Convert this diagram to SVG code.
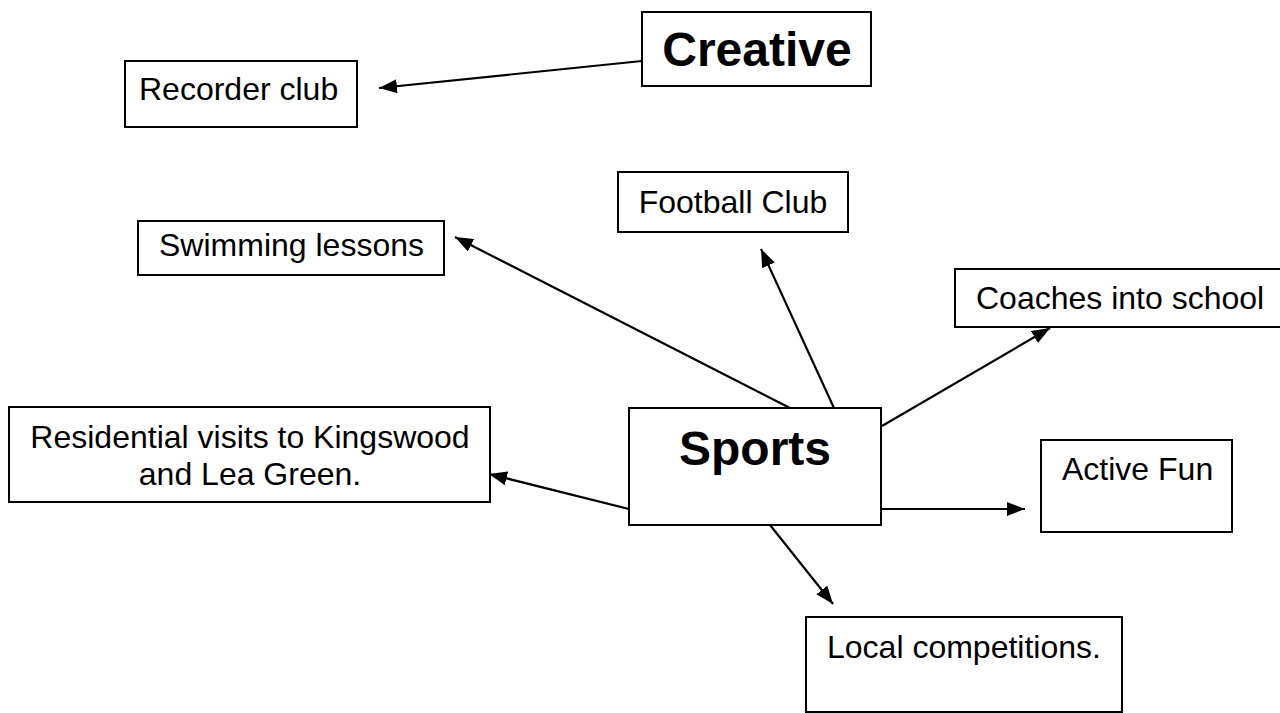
<svg xmlns="http://www.w3.org/2000/svg" width="1280" height="713" viewBox="0 0 1280 713">
<style>
.box{fill:#fff;stroke:#000;stroke-width:2}
.t{font-family:"Liberation Sans",Arial,sans-serif;font-size:32px;fill:#000}
.b{font-family:"Liberation Sans",Arial,sans-serif;font-size:48px;font-weight:bold;fill:#000}
.c{stroke:#000;stroke-width:2.2;fill:none;marker-end:url(#ah)}
</style>
<defs>
<marker id="ah" markerUnits="userSpaceOnUse" markerWidth="18" markerHeight="14" viewBox="0 0 18 14" refX="18" refY="7" orient="auto">
<path d="M0,0 L18,7 L0,14 z" fill="#000"/>
</marker>
</defs>
<rect width="1280" height="713" fill="#fff"/>
<g id="connectors">
<line class="c" x1="642" y1="61" x2="379" y2="88"/>
<line class="c" x1="790" y1="408" x2="455" y2="237"/>
<line class="c" x1="834" y1="408" x2="761" y2="249"/>
<line class="c" x1="882" y1="426" x2="1050" y2="328"/>
<line class="c" x1="881" y1="509" x2="1025" y2="509"/>
<line class="c" x1="770" y1="525" x2="833" y2="604"/>
<line class="c" x1="629" y1="509" x2="489" y2="474"/>
</g>
<g id="creative">
<rect class="box" x="642" y="12" width="229" height="74"/>
<text class="b" x="757" y="66" text-anchor="middle">Creative</text>
</g>
<g id="recorder">
<rect class="box" x="125" y="61" width="232" height="66"/>
<text class="t" x="139" y="100">Recorder club</text>
</g>
<g id="football">
<rect class="box" x="618" y="172" width="230" height="60"/>
<text class="t" x="733" y="213" text-anchor="middle">Football Club</text>
</g>
<g id="swimming">
<rect class="box" x="138" y="221" width="306" height="54"/>
<text class="t" x="159" y="256">Swimming lessons</text>
</g>
<g id="coaches">
<rect class="box" x="955" y="269" width="340" height="58"/>
<text class="t" x="976" y="309">Coaches into school</text>
</g>
<g id="sports">
<rect class="box" x="629" y="408" width="252" height="117"/>
<text class="b" x="755" y="465" text-anchor="middle">Sports</text>
</g>
<g id="residential">
<rect class="box" x="9" y="407" width="481" height="95"/>
<text class="t" x="250" y="448" text-anchor="middle">Residential visits to Kingswood</text>
<text class="t" x="250" y="485" text-anchor="middle">and Lea Green.</text>
</g>
<g id="activefun">
<rect class="box" x="1041" y="440" width="191" height="92"/>
<text class="t" x="1062" y="480">Active Fun</text>
</g>
<g id="local">
<rect class="box" x="806" y="617" width="316" height="95"/>
<text class="t" x="827" y="658">Local competitions.</text>
</g>
</svg>
